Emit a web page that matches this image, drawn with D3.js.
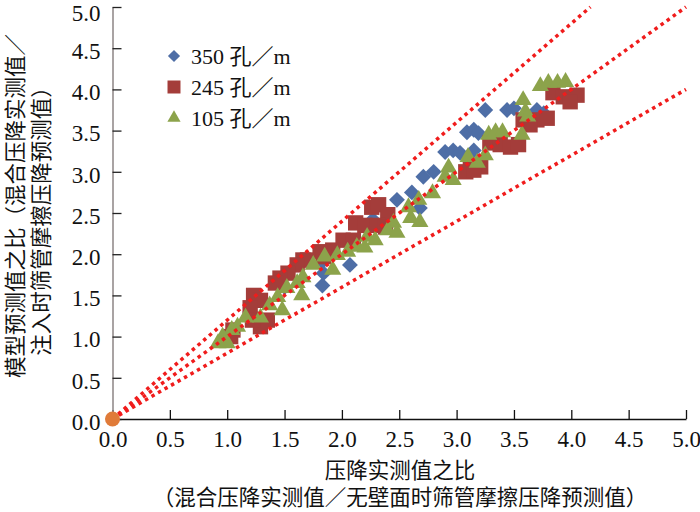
<!DOCTYPE html>
<html>
<head>
<meta charset="utf-8">
<script src="https://cdn.jsdelivr.net/npm/d3@7"></script>
<style>
  body { margin: 0; background: #fff; }
  svg { display: block; }
  .tick text { font-family: "Liberation Serif", serif; font-size: 23px; fill: #111; }
</style>
</head>
<body>
<svg id="chart" width="700" height="512"></svg>
<script>
const series350 = [
  [3.25, 3.75], [3.44, 3.75], [3.50, 3.77], [3.70, 3.75], [3.76, 3.71],
  [3.09, 3.48], [3.15, 3.51], [3.19, 3.47],
  [2.90, 3.24], [2.97, 3.26], [3.03, 3.23], [3.15, 3.26],
  [2.80, 3.00], [2.71, 2.94], [2.61, 2.75], [2.48, 2.66], [2.68, 2.56],
  [2.27, 2.42], [2.07, 1.87], [1.83, 1.91], [1.84, 1.77], [1.83, 1.62],
  [1.50, 1.60], [1.20, 1.30]
];
const series245 = [
  [3.84, 3.96], [3.93, 3.91], [4.05, 3.93], [3.99, 3.85],
  [3.58, 3.63], [3.70, 3.63], [3.79, 3.65], [3.64, 3.57],
  [3.29, 3.35], [3.38, 3.33], [3.47, 3.30], [3.54, 3.33],
  [3.12, 3.08], [3.21, 3.06], [3.08, 3.00], [3.15, 3.02],
  [2.26, 2.57], [2.32, 2.60], [2.40, 2.48], [2.12, 2.38], [2.20, 2.35],
  [2.31, 2.35], [2.38, 2.33], [2.01, 2.17], [2.10, 2.17], [1.92, 2.05],
  [1.81, 2.03], [1.84, 1.97], [1.70, 1.93], [1.66, 1.93], [1.61, 1.87],
  [1.53, 1.77], [1.46, 1.71], [1.42, 1.65], [1.23, 1.50], [1.29, 1.44],
  [1.20, 1.35], [1.35, 1.20], [1.29, 1.12], [1.22, 1.20], [1.05, 1.08],
  [1.03, 1.00]
];
const series105 = [
  [3.73, 4.04], [3.80, 4.08], [3.88, 4.08], [3.95, 4.09],
  [3.58, 3.87], [3.60, 3.73], [3.62, 3.67],
  [3.28, 3.45], [3.34, 3.48], [3.40, 3.48], [3.57, 3.45],
  [3.10, 3.18], [3.18, 3.11], [3.25, 3.20], [2.93, 3.05], [2.90, 2.94],
  [2.97, 2.90], [2.79, 2.74], [2.67, 2.66], [2.58, 2.57], [2.60, 2.44],
  [2.68, 2.39], [2.45, 2.38], [2.40, 2.29], [2.48, 2.26], [2.22, 2.21],
  [2.29, 2.17], [2.13, 2.09], [2.20, 2.08], [2.05, 2.03], [1.96, 1.99],
  [1.85, 1.97], [1.75, 1.87], [1.92, 1.81], [1.66, 1.72], [1.61, 1.65],
  [1.52, 1.59], [1.44, 1.48], [1.65, 1.50], [1.37, 1.38], [1.48, 1.32],
  [1.29, 1.23], [1.16, 1.23], [1.09, 1.12], [1.04, 1.08], [0.96, 1.00],
  [0.92, 0.92], [1.00, 0.92]
];
const origin = [[0, 0]];
const boundSlopes = [1.2, 1.0, 0.8];
const tickValues = [0, 0.5, 1, 1.5, 2, 2.5, 3, 3.5, 4, 4.5, 5];
const legendLabels = ["350 孔／m", "245 孔／m", "105 孔／m"];
const xTitle = ["压降实测值之比", "（混合压降实测值／无壁面时筛管摩擦压降预测值）"];
const yTitle = ["模型预测值之比（混合压降实测值／", "注入时筛管摩擦压降预测值）"];

const svg = d3.select("#chart");
const x = d3.scaleLinear().domain([0, 5]).range([112.5, 686]);
const y = d3.scaleLinear().domain([0, 5]).range([419, 7]);
const fmt = d3.format(".1f");

// axes, ticks pointing inside
const xAxis = svg.append("g")
  .attr("transform", `translate(0,${y(0)})`)
  .call(d3.axisBottom(x).tickValues(tickValues).tickFormat(fmt)
    .tickSizeInner(-9).tickSizeOuter(0).tickPadding(12));
xAxis.select(".domain").attr("stroke", "#111").attr("stroke-width", 1.5);
xAxis.selectAll(".tick line").attr("stroke", "#111").attr("stroke-width", 1.3);

const yAxis = svg.append("g")
  .attr("transform", `translate(${x(0)},0)`)
  .call(d3.axisLeft(y).tickValues(tickValues).tickFormat(fmt)
    .tickSizeInner(-9).tickSizeOuter(0).tickPadding(12));
yAxis.select(".domain").attr("stroke", "#8c8484").attr("stroke-width", 1.5);
yAxis.selectAll(".tick line").attr("stroke", "#222").attr("stroke-width", 1.3);
yAxis.selectAll(".tick text").attr("dy", d => d === 5 ? "0.58em" : "0.45em");

const colors = { d: "#4e6ea6", s: "#a43d3a", t: "#8ca34b" };
const diamond = d3.symbol().type(d3.symbolDiamond2).size(160);
const square = d3.symbol().type(d3.symbolSquare2).size(300);
const triangle = d3.symbol().type(d3.symbolTriangle2).size(210);

const plot = svg.append("g");
plot.selectAll(".d").data(series350).join("path")
  .attr("d", diamond).attr("fill", colors.d)
  .attr("transform", d => `translate(${x(d[0])},${y(d[1])})`);
plot.selectAll(".s").data(series245).join("path")
  .attr("d", square).attr("fill", colors.s)
  .attr("transform", d => `translate(${x(d[0])},${y(d[1])})`);
plot.selectAll(".t").data(series105).join("path")
  .attr("d", triangle).attr("fill", colors.t)
  .attr("transform", d => `translate(${x(d[0])},${y(d[1])})`);

// +-20% bounds and 1:1 line
svg.append("g").selectAll("line").data(boundSlopes).join("line")
  .attr("x1", x(0)).attr("y1", y(0))
  .attr("x2", k => x(Math.min(5, 5 / k)))
  .attr("y2", k => y(Math.min(5, 5 * k)))
  .attr("stroke", "#f01c1c").attr("stroke-width", 3.5)
  .attr("stroke-dasharray", "3.5,4");

svg.append("g").selectAll("circle").data(origin).join("circle")
  .attr("cx", d => x(d[0])).attr("cy", d => y(d[1])).attr("r", 7.5)
  .attr("fill", "#e07b39");

// legend
const legend = svg.append("g");
const legendSyms = [
  [d3.symbol().type(d3.symbolDiamond2).size(95), colors.d],
  [d3.symbol().type(d3.symbolSquare2).size(215), colors.s],
  [d3.symbol().type(d3.symbolTriangle2).size(125), colors.t]
];
const legendY = [56, 87, 118];
legendLabels.forEach((lab, i) => {
  legend.append("path").attr("d", legendSyms[i][0]())
    .attr("fill", legendSyms[i][1])
    .attr("transform", `translate(174,${legendY[i]})`);
  legend.append("text").attr("x", 191).attr("y", legendY[i] + 8)
    .attr("font-family", "'Liberation Serif', 'Noto Sans CJK SC', serif")
    .attr("font-size", 22).attr("fill", "#111").text(lab);
});

// axis titles
const cjk = "'Noto Sans CJK SC', sans-serif";
svg.append("g").selectAll("text").data(xTitle).join("text")
  .attr("x", 400).attr("y", (d, i) => 478 + i * 27)
  .attr("text-anchor", "middle").attr("font-family", cjk)
  .attr("font-size", 21.5).attr("fill", "#111").text(d => d);

svg.append("g").selectAll("text").data(yTitle).join("text")
  .attr("transform", (d, i) => `translate(${23 + i * 26},${i ? 216 : 206}) rotate(-90)`)
  .attr("text-anchor", "middle").attr("font-family", cjk)
  .attr("font-size", 21.5).attr("fill", "#111").text(d => d);
</script>
</body>
</html>
